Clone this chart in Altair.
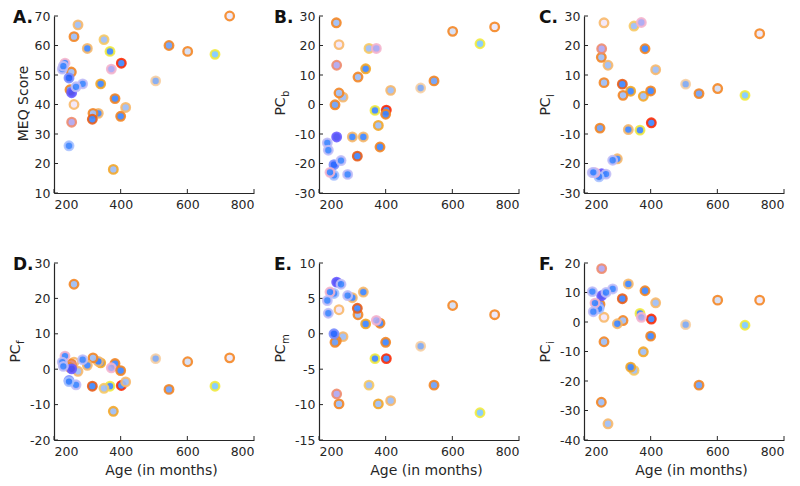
import altair as alt
import pandas as pd

# ---- data (one entry per subject) ----
age = [727, 683, 601, 545, 505, 402, 368, 415, 378, 350, 383, 372, 340, 333, 317, 315,
       400, 300, 272, 260, 260, 252, 253, 248, 245, 253, 286, 266, 245, 233, 225, 228]
fill = ["#ebe7f8", "#7fcaff", "#d5ddf3", "#6fa0f5", "#80a8f0", "#3d85ff", "#3d85ff", "#9dbdf5",
        "#9dbdf5", "#9dbdf5", "#3d85ff", "#a9a6f2", "#3d85ff", "#3d85ff", "#9dbdf5", "#3d85ff",
        "#3d85ff", "#3d85ff", "#9dbdf5", "#9dbdf5", "#f3e6f7", "#9dbdf5", "#b0a6f0", "#6fa0f5",
        "#1f5fff", "#4b4df5", "#3d85ff", "#3d85ff", "#3d85ff", "#3d85ff", "#3d85ff", "#3d85ff"]
stroke = ["#f5841f", "#f2ea3c", "#f5841f", "#f5841f", "#f8cfa0", "#ff2a00", "#f2ea3c", "#f8b768",
          "#f5a623", "#f8c860", "#f5841f", "#f5b3cc", "#f5a623", "#f8b768", "#f5841f", "#ec5b12",
          "#f5841f", "#f8b768", "#f8b768", "#f5841f", "#f8b768", "#f5841f", "#f08a6a", "#f5841f",
          "#7a8cff", "#6a5cff", "#c2bdf7", "#c2bdf7", "#a8c2ff", "#f5b3cc", "#c2bdf7", "#c2bdf7"]
meq = [70, 57, 58, 60, 48, 54, 58, 39, 18, 62, 42, 52, 47, 37, 37, 35,
       36, 59, 67, 63, 40, 51, 34, 45, 49, 44, 47, 46, 26, 54, 52, 53]
pc_b = [26.3, 20.6, 24.8, 8.0, 5.6, -1.9, -2.0, 4.8, -7.1, 19.0, -14.4, 19.0, 12.1, -11.0, 9.3, -17.5,
        -3.3, -11.0, 2.5, 3.9, 20.3, 27.7, 13.3, -0.1, -20.4, -11.0, -23.7, -19.0, -24.0, -23.0, -13.0, -15.5]
pc_l = [24.0, 3.1, 5.4, 3.7, 6.9, -6.2, -8.7, 11.8, 2.8, 26.6, 18.9, 27.8, 4.5, -8.5, 3.1, 6.9,
        4.6, -18.4, 13.3, 7.4, 27.7, 16.0, 18.9, -8.0, -23.8, -23.5, -18.9, -23.6, -24.5, -23.1, -23.1, -23.0]
pc_f = [3.2, -4.8, 2.1, -5.7, 3.0, -4.6, -4.8, -3.6, -11.9, -5.4, 1.6, 0.4, 1.8, 2.2, 3.2, -4.8,
        -0.4, 1.1, -0.6, 24.0, 2.0, 1.5, 1.0, 0.5, -3.2, 0.1, 2.7, -4.4, -3.5, 3.7, 2.0, 0.8]
pc_m = [2.7, -11.15, 4.0, -7.25, -1.75, -3.5, -3.5, -9.45, -9.9, -7.25, 1.5, 1.9, 1.4, 5.9, 2.7, 3.6,
        -1.2, 5.1, -0.4, -9.9, 3.4, -1.0, -8.5, -1.2, 0.0, 7.3, 5.4, 7.0, 5.7, 5.9, 4.7, 2.9]
pc_i = [7.4, -1.1, 7.4, -21.4, -0.9, 1.0, 2.9, 6.5, -10.1, -16.4, 10.6, 1.6, -15.3, 12.9, 0.5, 7.9,
        -4.8, -0.6, -34.5, -6.7, 1.6, -27.2, 18.1, 6.0, 5.0, 8.9, 11.2, 10.0, 4.5, 6.4, 10.3, 3.5]

x_ticks = [200, 400, 600, 800]

df = pd.DataFrame({"age": age, "fill": fill, "stroke": stroke, "meq": meq, "pc_b": pc_b,
                   "pc_l": pc_l, "pc_f": pc_f, "pc_m": pc_m, "pc_i": pc_i})

panels = [
    ("A.", "meq", "MEQ Score", "", [10, 70], [10, 20, 30, 40, 50, 60, 70], -41),
    ("B.", "pc_b", "PC", "b", [-30, 30], [-30, -20, -10, 0, 10, 20, 30], -45),
    ("C.", "pc_l", "PC", "l", [-30, 30], [-30, -20, -10, 0, 10, 20, 30], -45),
    ("D.", "pc_f", "PC", "f", [-20, 30], [-20, -10, 0, 10, 20, 30], -41),
    ("E.", "pc_m", "PC", "m", [-15, 10], [-15, -10, -5, 0, 5, 10], -45),
    ("F.", "pc_i", "PC", "i", [-40, 20], [-40, -30, -20, -10, 0, 10, 20], -45),
]

W, H = 200, 177
AX = "#262626"
FONT = "DejaVu Sans"


def make_panel(letter, col, ylab, sub, dom, yticks, ldx, bottom):
    xs = alt.Scale(domain=[200, 800], nice=False, zero=False)
    ys = alt.Scale(domain=dom, nice=False, zero=False)
    xaxis = alt.Axis(values=x_ticks, ticks=False, grid=False, labelPadding=5,
                     title="Age (in months)" if bottom else "", titlePadding=6,
                     titleX=W / 2 + 7)
    yaxis = alt.Axis(values=yticks, ticks=False, grid=False, labelPadding=4, title="",
                     labelExpr="replace(datum.label, '\u2212', '-')")
    pts = alt.Chart(df).mark_circle(size=74, strokeWidth=2.3, fillOpacity=0.92,
                                    strokeOpacity=0.88).encode(
        x=alt.X("age:Q", scale=xs, axis=xaxis),
        y=alt.Y(f"{col}:Q", scale=ys, axis=yaxis),
        fill=alt.Fill("fill:N", scale=None),
        stroke=alt.Stroke("stroke:N", scale=None),
    )
    xt = alt.Chart(pd.DataFrame({"v": x_ticks})).mark_rule(color=AX, strokeWidth=1).encode(
        x=alt.X("v:Q", scale=xs, axis=xaxis), y=alt.value(H), y2=alt.value(H - 4))
    yt = alt.Chart(pd.DataFrame({"w": yticks})).mark_rule(color=AX, strokeWidth=1).encode(
        y=alt.Y("w:Q", scale=ys, axis=yaxis), x=alt.value(0), x2=alt.value(4))
    lab = alt.Chart(pd.DataFrame({"t": [letter]})).mark_text(
        align="left", baseline="alphabetic", fontSize=17, fontWeight="bold", font=FONT,
        color="#111111").encode(x=alt.value(ldx), y=alt.value(7), text="t:N")
    if sub:
        main = alt.Chart(pd.DataFrame({"t": [ylab]})).mark_text(
            angle=270, align="center", baseline="alphabetic", fontSize=14, font=FONT,
            color=AX).encode(x=alt.value(-34), y=alt.value(H / 2 + 2), text="t:N")
        subt = alt.Chart(pd.DataFrame({"t": [sub]})).mark_text(
            angle=270, align="left", baseline="alphabetic", fontSize=10, font=FONT,
            color=AX).encode(x=alt.value(-30), y=alt.value(H / 2 + 2 - 9.5), text="t:N")
        layers = [xt, yt, pts, lab, main, subt]
    else:
        main = alt.Chart(pd.DataFrame({"t": [ylab]})).mark_text(
            angle=270, align="center", baseline="alphabetic", fontSize=14, font=FONT,
            color=AX).encode(x=alt.value(-26), y=alt.value(H / 2 - 1), text="t:N")
        layers = [xt, yt, pts, lab, main]
    return alt.layer(*layers).properties(width=W, height=H)


charts = [make_panel(*p, bottom=(i >= 3)) for i, p in enumerate(panels)]
chart = alt.concat(*charts, columns=3, spacing={"row": 70, "column": 65}, bounds="flush").properties(
    padding={"left": 0, "top": -2, "right": 5, "bottom": 5}
).configure_view(stroke="transparent").configure_axis(
    labelFont=FONT, labelFontSize=12.5, labelColor=AX, domainColor=AX, domainWidth=1.2,
    titleFont=FONT, titleFontSize=14, titleColor=AX, titleFontWeight="normal"
)

chart.save("out.html", embed_options={"renderer": "svg", "actions": False})
